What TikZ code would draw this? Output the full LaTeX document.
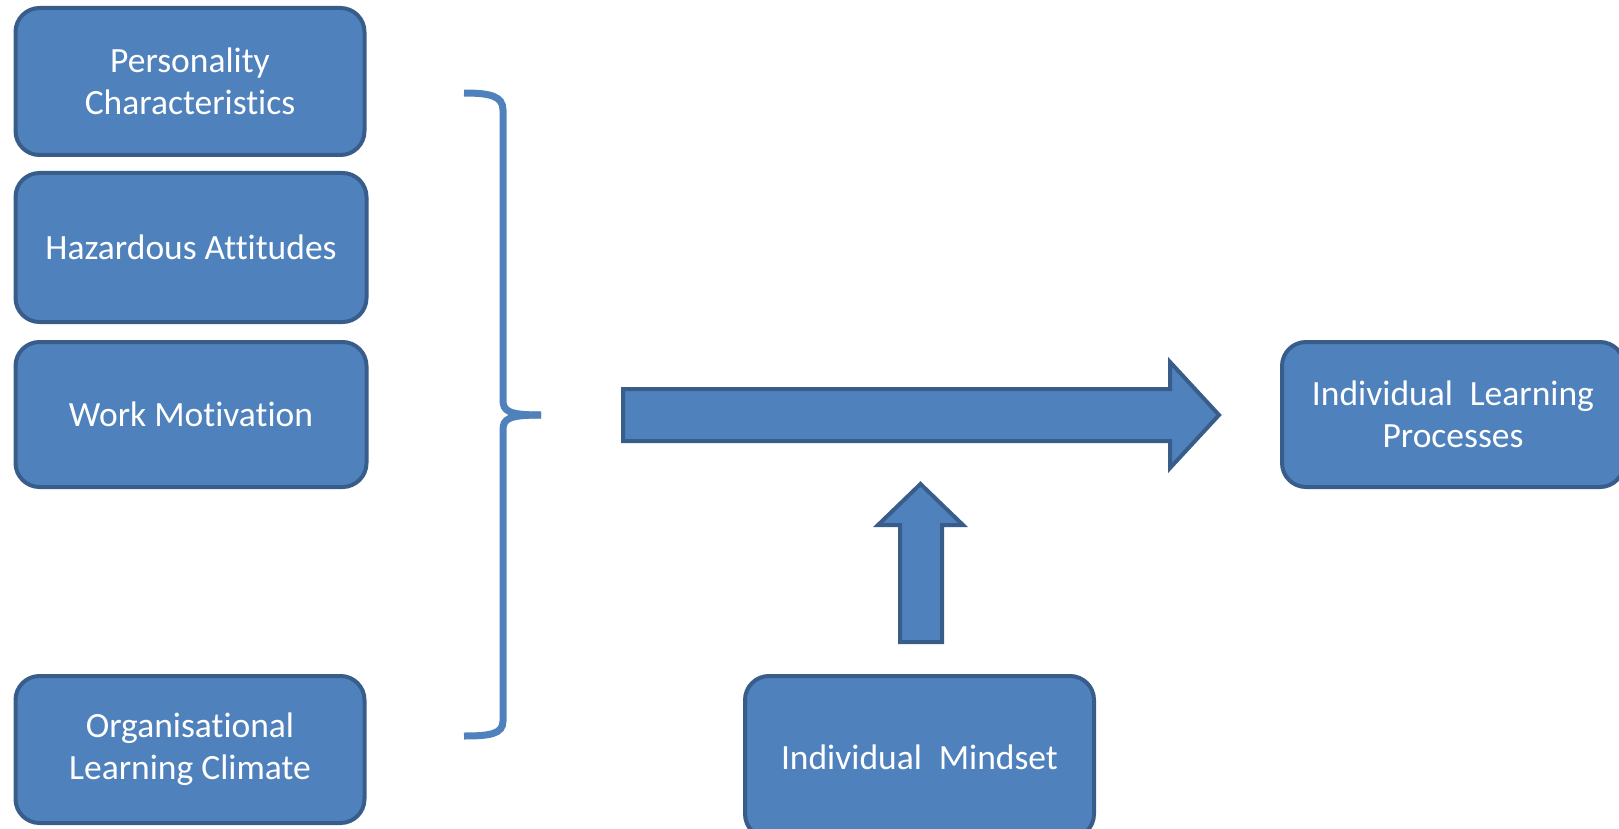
\documentclass[tikz,border=0pt]{standalone}
\usepackage{fontspec}
\setmainfont{Carlito}[Ligatures=NoCommon]
\definecolor{boxfill}{HTML}{4F81BD}
\definecolor{boxline}{HTML}{385D8A}
\begin{document}
\begin{tikzpicture}[x=1pt,y=-1pt,
  box/.style={draw=boxline, fill=boxfill, line width=4pt, rounded corners=24pt,
    text=white, align=center, inner sep=0pt,
    font=\fontsize{35.5}{42}\selectfont, minimum width=349pt},
  bigarrow/.style={draw=boxline, fill=boxfill, line width=4pt, line join=miter},
  bracestyle/.style={draw=boxfill, line width=7pt, line cap=butt}]
\useasboundingbox (0,0) rectangle (1619,829);
\clip (0,0) rectangle (1619,829);
\node[box, minimum height=147pt] (pc) at (190,81.5) {Personality\\Characteristics};
\node[box, minimum width=351pt, minimum height=149pt] (ha) at (191,247.5) {Hazardous Attitudes};
\node[box, minimum width=351pt, minimum height=145pt] (wm) at (191,414.5) {Work Motivation};
\node[box, minimum height=147pt] (olc) at (190,749.5) {Organisational\\Learning Climate};
\node[box, minimum width=342pt, minimum height=145pt] (ilp) at (1453,414.5) {Individual\hspace{0.25em} Learning\\Processes};
\node[box, minimum height=162pt] (im) at (919.5,757) {Individual\hspace{0.25em} Mindset};
% brace
\coordinate (btop) at (464,93);
\coordinate (btip) at (541,415);
\coordinate (bbot) at (464,736);
\draw[bracestyle] (btop) .. controls (490,93) and (503,96) .. (503,110) -- (503,400)
  .. controls (503,411) and (508,415) .. (btip);
\draw[bracestyle] (btip) .. controls (508,415) and (503,419) .. (503,430) -- (503,721)
  .. controls (503,734) and (490,736) .. (bbot);
% big right arrow
\coordinate (atail) at (623,415);
\coordinate (ahead) at (1219,415);
\draw[bigarrow] (623,389) -- (1170,389) -- (1170,362) -- (ahead) -- (1170,468)
  -- (1170,441) -- (623,441) -- cycle;
% up arrow
\coordinate (utip) at (920.5,484);
\draw[bigarrow] (900,642) -- (900,525) -- (878,525) -- (utip) -- (963,525)
  -- (942,525) -- (942,642) -- cycle;
\end{tikzpicture}
\end{document}
